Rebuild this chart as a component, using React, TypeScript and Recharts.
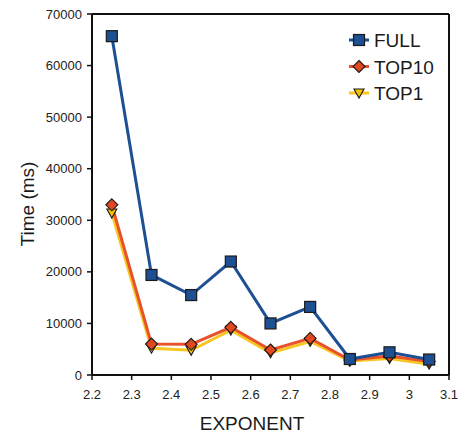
import React from "react";
import { Line, LineChart, ReferenceLine, XAxis, YAxis } from "recharts";

const exponents = [2.25, 2.35, 2.45, 2.55, 2.65, 2.75, 2.85, 2.95, 3.05];
const fullTimes = [65700, 19400, 15500, 22000, 10000, 13200, 3100, 4400, 3000];
const top10Times = [33000, 6000, 5950, 9250, 4850, 7100, 2900, 3700, 2600];
const top1Times = [31400, 5200, 4800, 8700, 4300, 6500, 2700, 3200, 2100];

const xTicks = [2.2, 2.3, 2.4, 2.5, 2.6, 2.7, 2.8, 2.9, 3, 3.1];
const yTicks = [0, 10000, 20000, 30000, 40000, 50000, 60000, 70000];

const data = exponents.map((x, i) => ({
  x,
  full: fullTimes[i],
  top10: top10Times[i],
  top1: top1Times[i],
}));

const FONT = "'Liberation Sans', Arial, Helvetica, sans-serif";
const BLUE = "#1d4f93";
const ORANGE = "#e8512a";
const YELLOW = "#f7c623";

const square = (cx: number, cy: number, key?: any) => (
  <rect key={key} x={cx - 5.5} y={cy - 5.5} width={11} height={11} fill={BLUE} stroke="#1a1a1a" strokeWidth={1.2} />
);
const diamond = (cx: number, cy: number, key?: any) => (
  <polygon
    key={key}
    points={`${cx},${cy - 6} ${cx + 6},${cy} ${cx},${cy + 6} ${cx - 6},${cy}`}
    fill="#e2471f"
    stroke="#1a1a1a"
    strokeWidth={1.1}
  />
);
const triangle = (cx: number, cy: number, key?: any) => (
  <polygon
    key={key}
    points={`${cx - 5},${cy - 4} ${cx + 5},${cy - 4} ${cx},${cy + 5}`}
    fill="#f4c400"
    stroke="#1a1a1a"
    strokeWidth={1.1}
  />
);

const series = [
  { name: "FULL", color: BLUE, marker: square },
  { name: "TOP10", color: ORANGE, marker: diamond },
  { name: "TOP1", color: YELLOW, marker: triangle },
];

function LegendBox() {
  return (
    <svg width={100} height={80} style={{ position: "absolute", left: 345, top: 28 }}>
      {series.map((s, i) => {
        const y = 12 + i * 26.5;
        return (
          <g key={s.name}>
            <line x1={4} x2={24} y1={y} y2={y} stroke={s.color} strokeWidth={3} />
            {s.marker(14, y)}
            <text x={29} y={y + 7} fontFamily={FONT} fontSize={19} fill="#1a1a1a">
              {s.name}
            </text>
          </g>
        );
      })}
    </svg>
  );
}

export default function App() {
  return (
    <div style={{ position: "absolute", left: 0, top: 0, width: 468, height: 434 }}>
      <LineChart width={468} height={434} data={data} margin={{ top: 14, right: 19, left: 20, bottom: 0 }}>
        <XAxis
          type="number"
          dataKey="x"
          domain={[2.2, 3.1]}
          ticks={xTicks}
          allowDataOverflow
          height={59}
          tickSize={5}
          tickMargin={10}
          tickFormatter={(v: number) => String(Math.round(v * 10) / 10)}
          tick={{ fontSize: 13, fill: "#222", fontFamily: FONT }}
          axisLine={{ stroke: "#111", strokeWidth: 2 }}
          tickLine={{ stroke: "#111", strokeWidth: 1.5 }}
          label={{
            content: () => (
              <text x={252} y={430} textAnchor="middle" fontFamily={FONT} fontSize={19} fill="#1a1a1a">
                EXPONENT
              </text>
            ),
          }}
        />
        <YAxis
          type="number"
          domain={[0, 70000]}
          ticks={yTicks}
          width={72}
          tickSize={5}
          tickMargin={5}
          tick={{ fontSize: 13, fill: "#222", fontFamily: FONT }}
          axisLine={{ stroke: "#111", strokeWidth: 2 }}
          tickLine={{ stroke: "#111", strokeWidth: 1.5 }}
          label={{
            content: () => (
              <text
                x={34}
                y={204}
                transform="rotate(-90 34 204)"
                textAnchor="middle"
                fontFamily={FONT}
                fontSize={19}
                fill="#1a1a1a"
              >
                Time (ms)
              </text>
            ),
          }}
        />
        <ReferenceLine y={70000} stroke="#111" strokeWidth={2} />
        <ReferenceLine x={3.1} stroke="#111" strokeWidth={2} />
        <Line
          dataKey="top1"
          stroke={YELLOW}
          strokeWidth={3}
          isAnimationActive={false}
          dot={(p: any) => triangle(p.cx, p.cy, `t1-${p.index}`)}
        />
        <Line
          dataKey="top10"
          stroke={ORANGE}
          strokeWidth={3}
          isAnimationActive={false}
          dot={(p: any) => diamond(p.cx, p.cy, `t10-${p.index}`)}
        />
        <Line
          dataKey="full"
          stroke={BLUE}
          strokeWidth={3}
          isAnimationActive={false}
          dot={(p: any) => square(p.cx, p.cy, `f-${p.index}`)}
        />
      </LineChart>
      <LegendBox />
    </div>
  );
}
